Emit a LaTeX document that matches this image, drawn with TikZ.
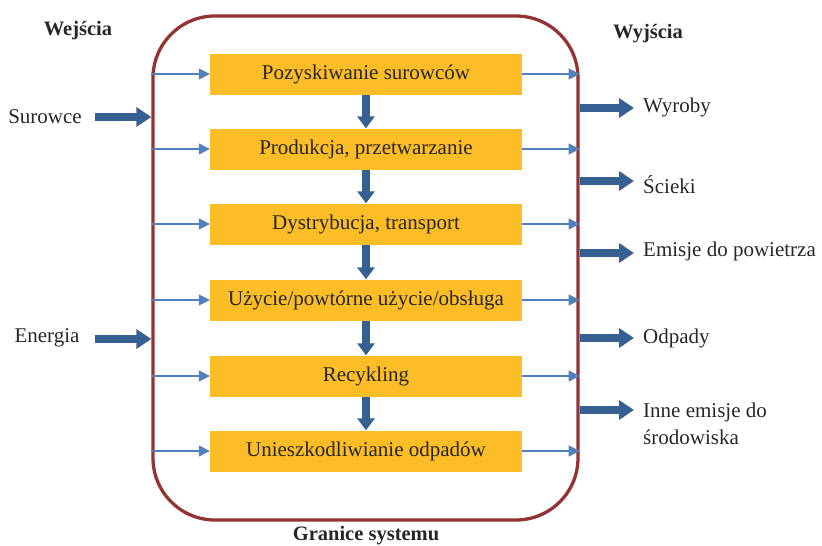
\documentclass[tikz,border=0pt]{standalone}
\usepackage{fontspec}
\setmainfont{Liberation Serif}
\usetikzlibrary{arrows.meta,positioning}
\definecolor{frameRed}{RGB}{147,52,50}
\definecolor{boxGold}{RGB}{252,189,38}
\definecolor{thickBlue}{RGB}{55,96,146}
\definecolor{thinBlue}{RGB}{79,129,189}
\tikzset{
  stagebox/.style={fill=boxGold, draw=none, minimum width=312pt, minimum height=41pt, inner sep=0pt, font=\fontsize{21}{25}\selectfont, text=black!85},
  lbl/.style={font=\fontsize{21}{25}\selectfont, text=black!85, inner sep=0pt},
  title/.style={font=\fontsize{20.5}{24}\selectfont\bfseries, text=black!85, inner sep=0pt},
  thin/.style={draw=thinBlue, line width=1.3pt, -{Triangle[width=11pt,length=11pt]}},
  thick/.style={draw=thickBlue, line width=8pt, -{Triangle[width=19pt,length=15pt]}},
  down/.style={draw=thickBlue, line width=8pt, -{Triangle[width=17pt,length=12pt]}}
}
\begin{document}
\begin{tikzpicture}[x=1pt,y=-1pt]
\useasboundingbox (0,0) rectangle (822,546);
\node[draw=frameRed, line width=3.3pt, rounded corners=62pt, minimum width=425pt, minimum height=504pt, inner sep=0pt] (frame) at (365.5,268) {};

\node[stagebox] (b1) at (366,74) {\raisebox{-1.5pt}{Pozyskiwanie surowców}};
\node[stagebox] (b2) at (366,149) {\raisebox{-1.5pt}{Produkcja, przetwarzanie}};
\node[stagebox] (b3) at (366,224) {\raisebox{-1.5pt}{Dystrybucja, transport}};
\node[stagebox] (b4) at (366,300) {\raisebox{-1.5pt}{Użycie/powtórne użycie/obsługa}};
\node[stagebox] (b5) at (366,376) {\raisebox{-1.5pt}{Recykling}};
\node[stagebox] (b6) at (366,451) {\raisebox{-1.5pt}{Unieszkodliwianie odpadów}};

\foreach \a/\b in {b1/b2,b2/b3,b3/b4,b4/b5,b5/b6}{
  \draw[down] (\a.south) -- (\b.north);
}
\foreach \b in {b1,b2,b3,b4,b5,b6}{
  \draw[thin] (\b.west -| frame.west) -- (\b.west);
  \draw[thin] (\b.east) -- (\b.east -| frame.east);
}

\node[title] (wej) at (78,31) {Wejścia};
\node[title] (wyj) at (648,34) {Wyjścia};
\node[title] (gran) at (366,536) {Granice systemu};

\node[lbl] (sur) at (45,117) {Surowce};
\node[lbl] (ene) at (47,338) {Energia};
\coordinate (surS) at (95,117);
\coordinate (eneS) at (95,339);
\draw[thick] (surS) -- (surS -| frame.west);
\draw[thick] (eneS) -- (eneS -| frame.west);

\node[lbl, anchor=west] (o1) at (643,107) {Wyroby};
\node[lbl, anchor=west] (o2) at (643,185) {Ścieki};
\node[lbl, anchor=west] (o3) at (643,251) {Emisje do powietrza};
\node[lbl, anchor=west] (o4) at (643,338) {Odpady};
\node[lbl, anchor=west, align=left, font=\fontsize{21}{27}\selectfont] (o5) at (643,424) {Inne emisje do\\środowiska};
\coordinate (o1e) at (634,108);
\coordinate (o2e) at (634,181);
\coordinate (o3e) at (634,253);
\coordinate (o4e) at (634,338);
\coordinate (o5e) at (634,410);
\foreach \e in {o1e,o2e,o3e,o4e,o5e}{
  \draw[thick] (\e -| frame.east) -- (\e);
}
\end{tikzpicture}
\end{document}
